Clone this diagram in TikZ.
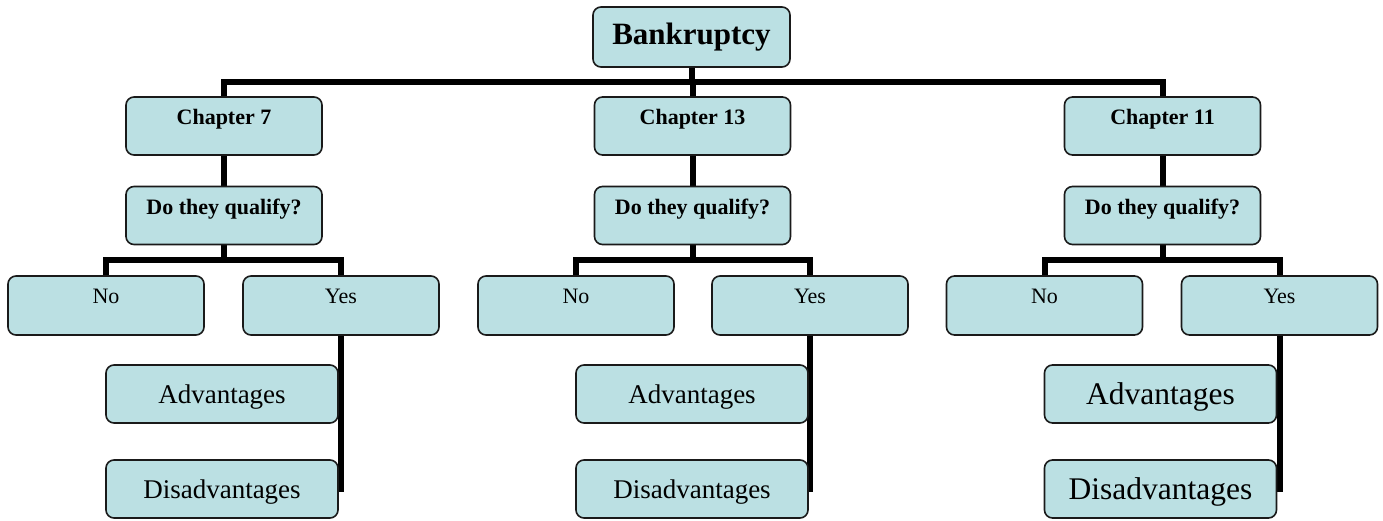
\documentclass[tikz,border=0pt]{standalone}
\usepackage{fontspec}
\setmainfont{Liberation Serif}
\usepackage{tikz}
\usetikzlibrary{positioning, calc, backgrounds}
\definecolor{boxfill}{HTML}{BBE0E3}
\definecolor{boxline}{HTML}{1A1A1A}

\begin{document}
\begin{tikzpicture}[
    x=0.5pt, y=-0.5pt,
    box/.style     = {rectangle, rounded corners=4pt, draw=boxline, line width=0.8pt,
                      fill=boxfill, inner sep=0pt, align=center},
    rootbox/.style = {box, minimum width=98.5pt, minimum height=30pt,
                      font=\fontsize{15.5}{18}\selectfont\bfseries},
    chap/.style    = {box, minimum width=98pt, minimum height=29pt,
                      font=\fontsize{11}{13}\selectfont\bfseries,
                      text height=6pt, text depth=7.5pt},
    ans/.style     = {box, minimum width=98pt, minimum height=29.5pt,
                      font=\fontsize{11}{13}\selectfont,
                      text height=6pt, text depth=8.5pt},
    pro/.style     = {box, minimum width=116pt, minimum height=29pt,
                      font=\fontsize{13.5}{16}\selectfont,
                      text height=9pt, text depth=0pt},
    bigpro/.style  = {pro, font=\fontsize{15.75}{18}\selectfont,
                      text height=10.4pt},
    link/.style    = {line width=3pt, draw=black},
    elbow/.style   = {to path={|- ($(\tikztostart)!.5!(\tikztotarget)$) -| (\tikztotarget)}}
  ]
  \useasboundingbox (0,0) rectangle (1383,520);

  % ── Root ─────────────────────────────────────────────────────────────────
  \node[rootbox] (root) at (691.5, 37) {Bankruptcy};

  % ── Chapter 7 ────────────────────────────────────────────────────────────
  \node[chap] (ch7)   at (224, 126)   {Chapter 7};
  \node[chap] (q7)    at (224, 215.5) {Do they qualify?};
  \node[ans]  (no7)   at (106, 305.5) {No};
  \node[ans]  (yes7)  at (341, 305.5) {Yes};
  \node[pro]  (adv7)  at (222, 394)   {Advantages};
  \node[pro]  (dis7)  at (222, 489)   {Disadvantages};

  % ── Chapter 13 ───────────────────────────────────────────────────────────
  \node[chap] (ch13)  at (692.5, 126)   {Chapter 13};
  \node[chap] (q13)   at (692.5, 215.5) {Do they qualify?};
  \node[ans]  (no13)  at (576, 305.5)   {No};
  \node[ans]  (yes13) at (810, 305.5)   {Yes};
  \node[pro]  (adv13) at (692, 394)     {Advantages};
  \node[pro]  (dis13) at (692, 489)     {Disadvantages};

  % ── Chapter 11 ───────────────────────────────────────────────────────────
  \node[chap]   (ch11)  at (1162.5, 126)   {Chapter 11};
  \node[chap]   (q11)   at (1162.5, 215.5) {Do they qualify?};
  \node[ans]    (no11)  at (1044.5, 305.5) {No};
  \node[ans]    (yes11) at (1279.5, 305.5) {Yes};
  \node[bigpro] (adv11) at (1160.5, 394)   {Advantages};
  \node[bigpro] (dis11) at (1160.5, 489)   {Disadvantages};

  % ── Connectors (behind the boxes) ────────────────────────────────────────
  \begin{scope}[on background layer]
    \draw[link] (root.south) to[elbow] (ch7.north);
    \draw[link] (root.south) to[elbow] (ch13.north);
    \draw[link] (root.south) to[elbow] (ch11.north);

    \draw[link] (ch7.south)  -- (q7.north);
    \draw[link] (ch13.south) -- (q13.north);
    \draw[link] (ch11.south) -- (q11.north);

    \draw[link] (q7.south)  to[elbow] (no7.north);
    \draw[link] (q7.south)  to[elbow] (yes7.north);
    \draw[link] (q13.south) to[elbow] (no13.north);
    \draw[link] (q13.south) to[elbow] (yes13.north);
    \draw[link] (q11.south) to[elbow] (no11.north);
    \draw[link] (q11.south) to[elbow] (yes11.north);

    \draw[link] (yes7.south)  |- (adv7.east);
    \draw[link] (yes7.south)  |- (dis7.east);
    \draw[link] (yes13.south) |- (adv13.east);
    \draw[link] (yes13.south) |- (dis13.east);
    \draw[link] (yes11.south) |- (adv11.east);
    \draw[link] (yes11.south) |- (dis11.east);
  \end{scope}
\end{tikzpicture}
\end{document}
